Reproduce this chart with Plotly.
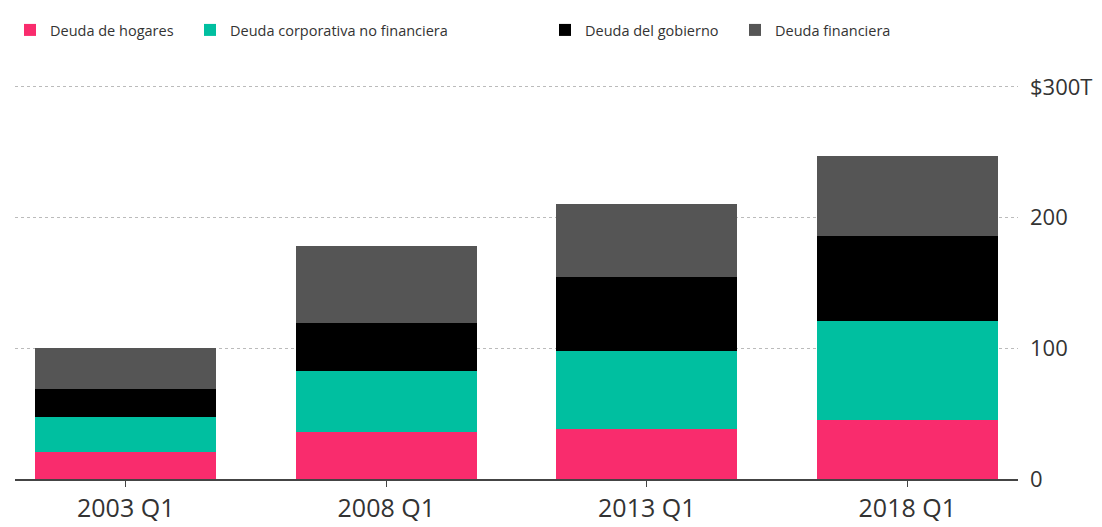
import plotly.graph_objects as go

# Quarters on the x axis
quarters = ["2003 Q1", "2008 Q1", "2013 Q1", "2018 Q1"]

# Debt by sector, trillions of dollars
hogares = [20.5, 36, 38.5, 45.5]
corporativa = [27, 47, 59.5, 75.5]
gobierno = [21.5, 36.5, 56.5, 65]
financiera = [31, 58.5, 56, 61.5]

# Right-hand axis ticks
tick_vals = [0, 100, 200, 300]
tick_text = ["0", "100", "200", "$300T"]

series = [
    ("Deuda de hogares", hogares, "#f92c6d", "legend"),
    ("Deuda corporativa no financiera", corporativa, "#00bfa0", "legend2"),
    ("Deuda del gobierno", gobierno, "#000000", "legend3"),
    ("Deuda financiera", financiera, "#555555", "legend4"),
]

fig = go.Figure()
for name, values, color, leg in series:
    fig.add_trace(
        go.Bar(
            x=quarters,
            y=values,
            name=name,
            legend=leg,
            marker=dict(color=color, line=dict(width=0)),
            hovertemplate=name + ": $%{y:.0f}T<extra></extra>",
        )
    )

# page body has an 8px margin, so the figure is 8px smaller than the window
W, H = 1094, 519
ML, MR, MT, MB = 7, 84, 75, 48
plot_w = W - ML - MR
plot_h = H - MT - MB

# One legend per entry so the items sit where they do in the original
legend_px = [2, 182, 537, 727]
legend_style = dict(
    yanchor="middle",
    xanchor="left",
    y=(H - MB - 22) / plot_h,
    bgcolor="rgba(0,0,0,0)",
    font=dict(family="Open Sans", size=14.5, color="#333333"),
)
legends = {}
for key, lx in zip(["legend", "legend2", "legend3", "legend4"], legend_px):
    legends[key] = dict(legend_style, x=(lx - ML) / plot_w)

fig.update_layout(
    width=W,
    height=H,
    barmode="stack",
    bargap=0.305,
    plot_bgcolor="white",
    paper_bgcolor="white",
    margin=dict(l=ML, r=MR, t=MT, b=MB, autoexpand=False),
    font=dict(family="Open Sans", color="#333333"),
    showlegend=True,
    **legends,
    xaxis=dict(
        type="category",
        range=[-0.425, 3.425],
        automargin=False,
        showline=True,
        linecolor="#444444",
        linewidth=1.5,
        ticks="outside",
        ticklen=6,
        tickcolor="#444444",
        tickfont=dict(size=25, color="#333333"),
        ticklabelstandoff=0,
        showgrid=False,
    ),
    yaxis=dict(
        side="right",
        range=[0, 303],
        automargin=False,
        tickvals=tick_vals,
        ticktext=tick_text,
        tickfont=dict(size=22, color="#333333"),
        ticks="",
        ticklabelstandoff=11,
        showgrid=True,
        gridcolor="#bbbbbb",
        griddash="dot",
        gridwidth=1,
        zeroline=False,
        showline=False,
    ),
)

fig.write_html("out.html")
